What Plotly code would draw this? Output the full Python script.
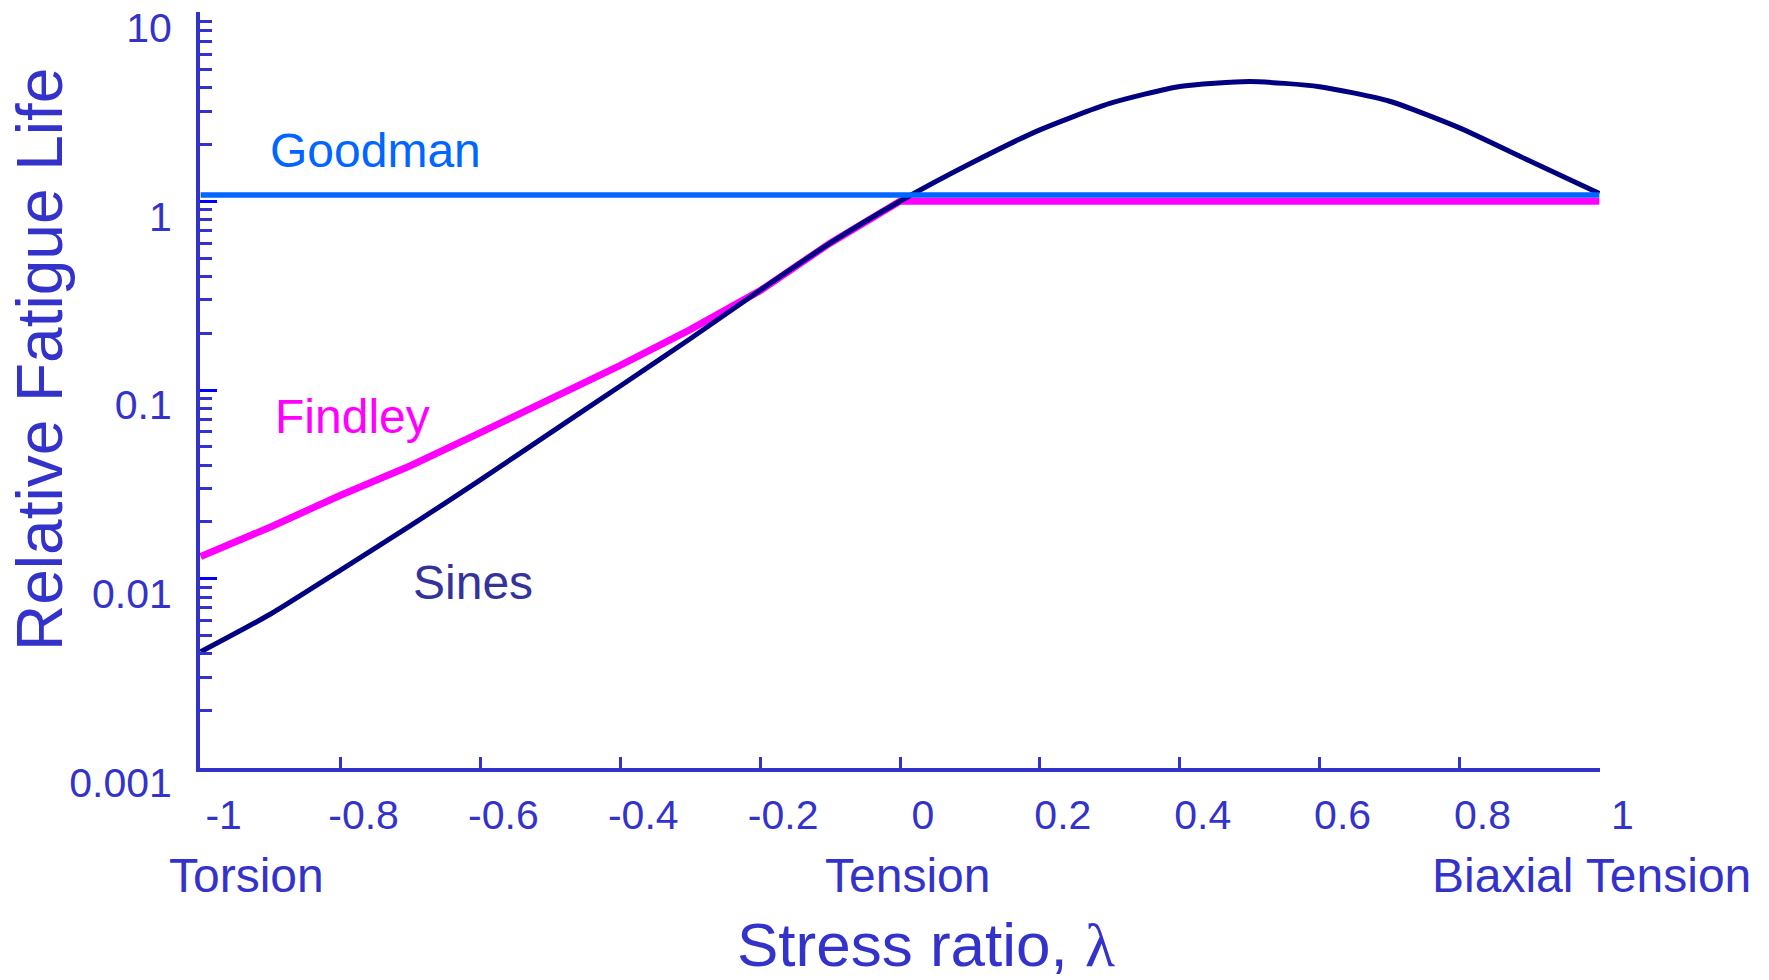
import numpy as np
import plotly.graph_objects as go

# ---- data ----
lam = [-1.0, -0.9, -0.8, -0.7, -0.6, -0.5, -0.4, -0.3, -0.2, -0.1,
       0.0, 0.1, 0.2, 0.3, 0.4, 0.5, 0.6, 0.7, 0.8, 0.9, 1.0]
sines = [0.0041, 0.0065, 0.0111, 0.0191, 0.0334, 0.0593, 0.105, 0.187, 0.338, 0.60,
         1.0, 1.58, 2.39, 3.30, 4.06, 4.31, 4.05, 3.39, 2.45, 1.64, 1.10]

findley_lam = [-1.0, -0.9, -0.8, -0.7, -0.6, -0.5, -0.4, -0.3, -0.2, -0.1, 0.0, 0.02, 1.0]
findley = [0.0131, 0.0188, 0.0277, 0.0397, 0.0594, 0.0891, 0.135, 0.209, 0.336, 0.60, 1.0, 1.0, 1.0]

goodman_lam = [-1.0, 1.0]
goodman = [1.08, 1.08]

x_ticks = [-1, -0.8, -0.6, -0.4, -0.2, 0, 0.2, 0.4, 0.6, 0.8, 1]
x_ticktext = ["-1", "-0.8", "-0.6", "-0.4", "-0.2", "0", "0.2", "0.4", "0.6", "0.8", "1"]
y_ticks = [0.001, 0.01, 0.1, 1, 10]
y_ticktext = ["0.001", "0.01", "0.1", "1", "10"]
y_minor = [k * 10.0 ** e for e in range(-3, 1) for k in range(2, 10)]

regime_labels = ["Torsion", "Tension", "Biaxial Tension"]
regime_pos = [-1, 0, 1]
regime_shift = [46, 7, -8]

AX = "#3333CC"
FONT = "Liberation Sans, Arial, sans-serif"

fig = go.Figure()
fig.add_trace(go.Scatter(x=findley_lam, y=findley, mode="lines",
                         line=dict(color="#FF00FF", width=7), showlegend=False))
fig.add_trace(go.Scatter(x=lam, y=sines, mode="lines",
                         line=dict(color="#000080", width=5, shape="spline", smoothing=0.6),
                         showlegend=False))
fig.add_trace(go.Scatter(x=goodman_lam, y=goodman, mode="lines",
                         line=dict(color="#0066FF", width=5.5), showlegend=False))

fig.update_layout(
    width=1769, height=980,
    margin=dict(l=200, r=169, t=12, b=212, autoexpand=False),
    paper_bgcolor="white", plot_bgcolor="white",
    font=dict(family=FONT, color=AX),
    showlegend=False,
)
fig.update_xaxes(
    range=[-1.001, 1.001], showgrid=False, zeroline=False, automargin=False,
    showline=True, linecolor=AX, linewidth=4,
    tickmode="array", tickvals=x_ticks, ticktext=x_ticktext,
    ticks="inside", ticklen=11, tickwidth=2.5, tickcolor=AX,
    tickfont=dict(size=41, color=AX, family=FONT),
    ticklabelstandoff=8, ticklabelshift=23,
)
fig.update_yaxes(
    type="log", range=[-3.003, 1.003], showgrid=False, zeroline=False, automargin=False,
    showline=True, linecolor=AX, linewidth=4,
    tickmode="array", tickvals=y_ticks, ticktext=y_ticktext,
    ticks="inside", ticklen=17, tickwidth=3, tickcolor="#0000FF",
    tickfont=dict(size=41, color=AX, family=FONT),
    ticklabelstandoff=16, ticklabelshift=15,
    minor=dict(tickmode="array", tickvals=y_minor, ticks="inside",
               ticklen=12, tickwidth=3, tickcolor=AX, showgrid=False),
)

# curve labels
fig.add_annotation(x=-0.75, y=np.log10(1.86), text="Goodman", showarrow=False,
                   font=dict(size=48, color="#0066FF", family=FONT))
fig.add_annotation(x=-0.783, y=np.log10(0.072), text="Findley", showarrow=False,
                   font=dict(size=48, color="#FF00FF", family=FONT))
fig.add_annotation(x=-0.61, y=np.log10(0.00953), text="Sines", showarrow=False,
                   font=dict(size=48, color="#333399", family=FONT))

# regime labels under the axis
for t, p, s in zip(regime_labels, regime_pos, regime_shift):
    fig.add_annotation(x=p, xref="x", y=0, yref="paper", text=t, showarrow=False,
                       xanchor="center", yanchor="middle", xshift=s, yshift=-107,
                       font=dict(size=48, color=AX, family=FONT))

# axis titles
fig.add_annotation(x=0.5186, xref="paper", y=0, yref="paper",
                   text='Stress ratio, <span style="font-family:Liberation Serif, Times New Roman, serif">λ</span>',
                   showarrow=False, xanchor="center", yanchor="middle", yshift=-176,
                   font=dict(size=62, color=AX, family=FONT))
fig.add_annotation(x=0, xref="paper", y=0.5397, yref="paper", text="Relative Fatigue Life",
                   textangle=-90, showarrow=False, xanchor="center", yanchor="middle",
                   xshift=-160, font=dict(size=64, color=AX, family=FONT))

fig.write_html("out.html", config={"displayModeBar": False},
               post_script="document.body.style.margin='0';document.body.style.overflow='hidden';")
